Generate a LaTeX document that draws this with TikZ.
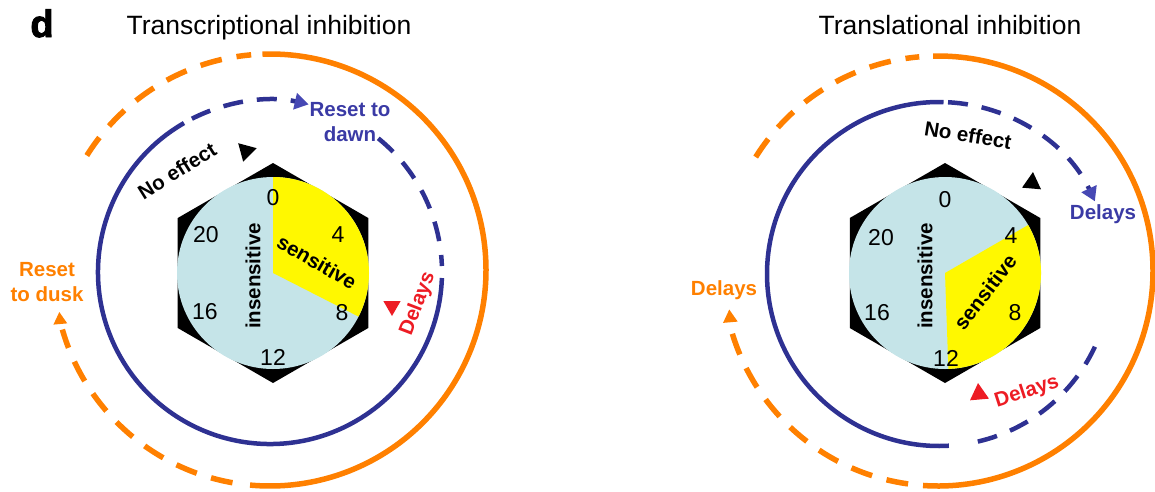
\documentclass[tikz,border=0pt]{standalone}
\usepackage{fontspec}
\setmainfont{Liberation Sans}
\newfontface\heavyd{Liberation Sans Bold}[FakeBold=2.5]
\usetikzlibrary{arrows.meta,shapes.geometric}
\definecolor{ringblue}{RGB}{46,49,146}
\definecolor{txtblue}{RGB}{58,58,165}
\definecolor{arrblue}{RGB}{70,72,180}
\definecolor{orng}{RGB}{255,128,0}
\definecolor{redd}{RGB}{237,28,36}
\definecolor{clockblue}{RGB}{197,228,232}
\definecolor{yel}{RGB}{255,248,0}
\begin{document}
\begin{tikzpicture}[x=1pt,y=1pt,
  bl/.style={font=\fontsize{20.5}{25}\selectfont\bfseries, inner sep=0pt},
  num/.style={font=\fontsize{23}{25}\selectfont, inner sep=0pt},
  ttl/.style={font=\fontsize{26.5}{30}\selectfont, inner sep=0pt, anchor=base},
  bring/.style={draw=ringblue, line width=4.5pt},
  oring/.style={draw=orng, line width=5.5pt},
  bdash/.style={bring, dash pattern=on 20pt off 14pt},
  odash/.style={oring, dash pattern=on 22pt off 15pt},
  tri/.style={regular polygon, regular polygon sides=3, inner sep=0pt, minimum size=#1},
  barrow/.style={-{Triangle[length=14pt,width=16pt,color=arrblue]}},
]
\useasboundingbox (0,0) rectangle (1155,-491);

% titles
\node[ttl] (T1) at (269,-34) {Transcriptional inhibition};
\node[ttl] (T2) at (950,-34) {Translational inhibition};
\node[font=\fontsize{38}{40}\heavyd, inner sep=0pt, anchor=base] (dlab) at (42,-37) {d};

% ================= LEFT PANEL =================
\coordinate (LC) at (273,-273);
\coordinate (LB) at (270,-272);
\coordinate (LO) at (270,-270);
% orange ring
\draw[oring] (LO) ++(92:216) arc[start angle=92, end angle=-95.3, radius=216];
\draw[odash] (LO) ++(260:216) arc[start angle=260, end angle=196, radius=216];
\draw[odash] (LO) ++(148:216) arc[start angle=148, end angle=95, radius=216];
% blue ring
\draw[bring] (LB) ++(120:172) arc[start angle=120, end angle=358, radius=172];
\draw[bdash, barrow] (LB) ++(117:172) arc[start angle=117, end angle=77, radius=172];
\draw[bdash] (LB) ++(51:172) arc[start angle=51, end angle=2, radius=172];
% clock
\fill[black, shift={(LC)}] (90:110) -- (150:110) -- (210:110) -- (270:110) -- (330:110) -- (30:110) -- cycle;
\fill[clockblue] (LC) circle (96);
\fill[yel] (LC) -- ++(90:96) arc[start angle=90, end angle=-27, radius=96] -- cycle;
\node[num] (L0) at (273,-198) {0};
\node[num] (L4) at (338,-235) {4};
\node[num] (L8) at (342,-313) {8};
\node[num] (L12) at (273,-357) {12};
\node[num] (L16) at (205,-312) {16};
\node[num] (L20) at (206,-235) {20};
\node[bl, rotate=90] (Lins) at (253,-276) {insensitive};
\node[bl, rotate=-30] (Lsen) at (317,-262) {sensitive};
% labels
\node[bl, align=center, txtblue, anchor=north] (LRd) at (350,-102) {Reset to\\dawn};
\node[bl, rotate=32] (LNo) at (177,-171) {No effect};
\node[bl, align=center, orng, anchor=north] (LRk) at (47,-262) {Reset\\to dusk};
\node[bl, redd, rotate=69] (LDr) at (418,-304) {Delays};
% triangles
\node[tri=22pt, fill=black, rotate=165] (LtriK) at (246,-151) {};
\node[tri=20pt, fill=redd, rotate=180] (LtriR) at (392,-306) {};
\node[tri=16pt, fill=orng, rotate=5] (LtriO) at (60,-320) {};

% ================= RIGHT PANEL =================
\coordinate (RC) at (945,-273);
\coordinate (RB) at (939,-274);
\coordinate (RO) at (938,-271);
% orange ring
\draw[oring] (RO) ++(91.3:215) arc[start angle=91.3, end angle=-94, radius=215];
\draw[odash] (RO) ++(262:215) arc[start angle=262, end angle=196, radius=215];
\draw[odash] (RO) ++(148:215) arc[start angle=148, end angle=95, radius=215];
% blue ring
\draw[bring] (RB) ++(88.5:172) arc[start angle=88.5, end angle=273.3, radius=172];
\draw[bdash, barrow] (RB) ++(87:172) arc[start angle=87, end angle=25, radius=172];
\draw[bdash] (RB) ++(-25:172) arc[start angle=-25, end angle=-80.6, radius=172];
% clock
\fill[black, shift={(RC)}] (90:110) -- (150:110) -- (210:110) -- (270:110) -- (330:110) -- (30:110) -- cycle;
\fill[clockblue] (RC) circle (96);
\fill[yel] (RC) -- ++(30:96) arc[start angle=30, end angle=-88, radius=96] -- cycle;
\node[num] (R0) at (945,-200) {0};
\node[num] (R4) at (1011,-236) {4};
\node[num] (R8) at (1015,-313) {8};
\node[num] (R12) at (946,-358) {12};
\node[num] (R16) at (877,-313) {16};
\node[num] (R20) at (881,-238) {20};
\node[bl, rotate=90] (Rins) at (925,-276) {insensitive};
\node[bl, rotate=52] (Rsen) at (985,-292) {sensitive};
% labels
\node[bl, rotate=-9] (RNo) at (968,-135) {No effect};
\node[bl, txtblue] (RDb) at (1103,-214) {Delays};
\node[bl, orng] (RDo) at (724,-290) {Delays};
\node[bl, redd, rotate=18] (RDr) at (1027,-392) {Delays};
% triangles
\node[tri=22pt, fill=black, rotate=-5] (RtriK) at (1032,-183) {};
\node[tri=22pt, fill=redd, rotate=5] (RtriR) at (979,-394) {};
\node[tri=17pt, fill=orng, rotate=5] (RtriO) at (730,-318) {};
\end{tikzpicture}
\end{document}
